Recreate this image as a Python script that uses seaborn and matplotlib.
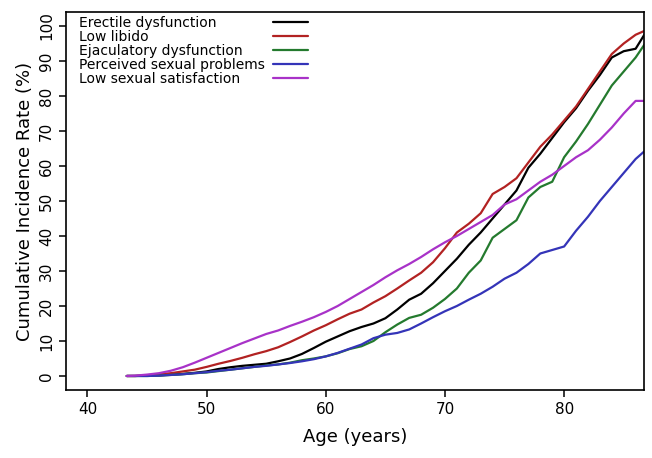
import numpy as np
import pandas as pd
import matplotlib
matplotlib.use("Agg")
import matplotlib.pyplot as plt
import seaborn as sns

# age grid (years) and cumulative incidence (%)
ages = [43.3] + list(range(44, 88))

erectile = [0, 0, 0.1, 0.2, 0.4, 0.6, 0.9, 1.3, 2.0, 2.5, 2.9, 3.2, 3.5, 4.2, 5.0,
            6.3, 8.0, 9.8, 11.3, 12.8, 14.0, 15.0, 16.5, 19.0, 21.8, 23.5, 26.5,
            30.0, 33.5, 37.5, 41.0, 45.0, 49.0, 53.0, 59.5, 63.5, 68.0, 72.5, 76.5,
            81.5, 86.0, 91.0, 92.8, 93.5, 99.0]
libido = [0, 0, 0.2, 0.5, 0.8, 1.3, 1.8, 2.6, 3.5, 4.3, 5.2, 6.2, 7.1, 8.2, 9.7,
          11.3, 13.0, 14.5, 16.2, 17.8, 19.0, 21.0, 22.8, 25.0, 27.3, 29.5, 32.5,
          36.5, 41.0, 43.5, 46.5, 52.0, 54.0, 56.5, 61.0, 65.5, 69.0, 73.0, 77.0,
          82.0, 87.0, 92.0, 95.0, 97.5, 99.0]
ejaculatory = [0, 0, 0, 0.1, 0.3, 0.5, 0.8, 1.0, 1.4, 1.8, 2.2, 2.6, 3.0, 3.3, 3.8,
               4.5, 5.0, 5.6, 6.5, 7.7, 8.5, 10.0, 12.5, 14.7, 16.6, 17.5, 19.5,
               22.0, 25.0, 29.5, 33.0, 39.5, 42.0, 44.5, 51.0, 54.0, 55.5, 62.5,
               67.0, 72.0, 77.5, 83.0, 87.0, 91.0, 96.0]
perceived = [0, 0, 0, 0.1, 0.3, 0.5, 0.8, 1.1, 1.5, 1.8, 2.2, 2.6, 2.9, 3.3, 3.7,
             4.2, 4.8, 5.6, 6.6, 7.8, 9.0, 10.8, 11.8, 12.3, 13.3, 15.0, 16.8,
             18.5, 20.0, 21.8, 23.5, 25.5, 27.8, 29.5, 32.0, 35.0, 36.0, 37.0,
             41.5, 45.5, 50.0, 54.0, 58.0, 62.0, 65.0]
satisfaction = [0, 0.1, 0.4, 0.8, 1.5, 2.5, 3.8, 5.2, 6.6, 8.0, 9.4, 10.7, 12.0,
                13.0, 14.3, 15.5, 16.8, 18.3, 20.0, 22.0, 24.0, 26.0, 28.2, 30.2,
                32.0, 34.0, 36.2, 38.2, 40.0, 42.0, 44.0, 46.0, 49.0, 50.5, 53.0,
                55.5, 57.5, 60.0, 62.5, 64.5, 67.5, 71.0, 75.0, 78.6, 78.6]

outcomes = ["Erectile dysfunction", "Low libido", "Ejaculatory dysfunction",
            "Perceived sexual problems", "Low sexual satisfaction"]
colors = ["#000000", "#B22222", "#247A2E", "#3434B8", "#A832C8"]
x_ticks = [40, 50, 60, 70, 80]
y_ticks = list(range(0, 101, 10))

series = [erectile, libido, ejaculatory, perceived, satisfaction]
df = pd.DataFrame({
    "age": ages * len(outcomes),
    "rate": [v for s in series for v in s],
    "outcome": [o for o in outcomes for _ in ages],
})

sns.set_style("ticks")
plt.rcParams["font.family"] = ["DejaVu Sans"]
plt.rcParams["text.color"] = "black"
plt.rcParams["axes.labelcolor"] = "black"

fig = plt.figure(figsize=(6.52, 4.58), dpi=100)
ax = fig.add_axes([0.1012, 0.1485, 0.8865, 0.8253])

sns.lineplot(data=df, x="age", y="rate", hue="outcome", hue_order=outcomes,
             palette=dict(zip(outcomes, colors)), linewidth=1.6,
             errorbar=None, legend=False, ax=ax)

ax.set_xlim(38.2, 86.7)
ax.set_ylim(-4, 104)
ax.set_xticks(x_ticks)
ax.set_yticks(y_ticks)
ax.tick_params(axis="both", length=5, width=1.1, labelsize=11, colors="black")
plt.setp(ax.get_yticklabels(), rotation=90, va="center")
for sp in ax.spines.values():
    sp.set_visible(True)
    sp.set_linewidth(1.2)
    sp.set_color("black")
ax.set_xlabel("Age (years)", fontsize=13, labelpad=8)
ax.set_ylabel("Cumulative Incidence Rate (%)", fontsize=13)

# legend: labels on the left, line samples in a column to the right
handles = ax.get_lines()[:len(outcomes)]
leg1 = ax.legend(handles, outcomes, loc="upper left", bbox_to_anchor=(0.022, 0.99),
                 handlelength=0, handletextpad=0, frameon=False, borderpad=0,
                 borderaxespad=0, labelspacing=0, fontsize=10)
ax.add_artist(leg1)
ax.legend(handles, [""] * len(outcomes), loc="upper left", bbox_to_anchor=(0.358, 0.99),
          handlelength=2.5, handletextpad=0, frameon=False, borderpad=0,
          borderaxespad=0, labelspacing=0, fontsize=10)

fig.savefig("out.png", dpi=100)
